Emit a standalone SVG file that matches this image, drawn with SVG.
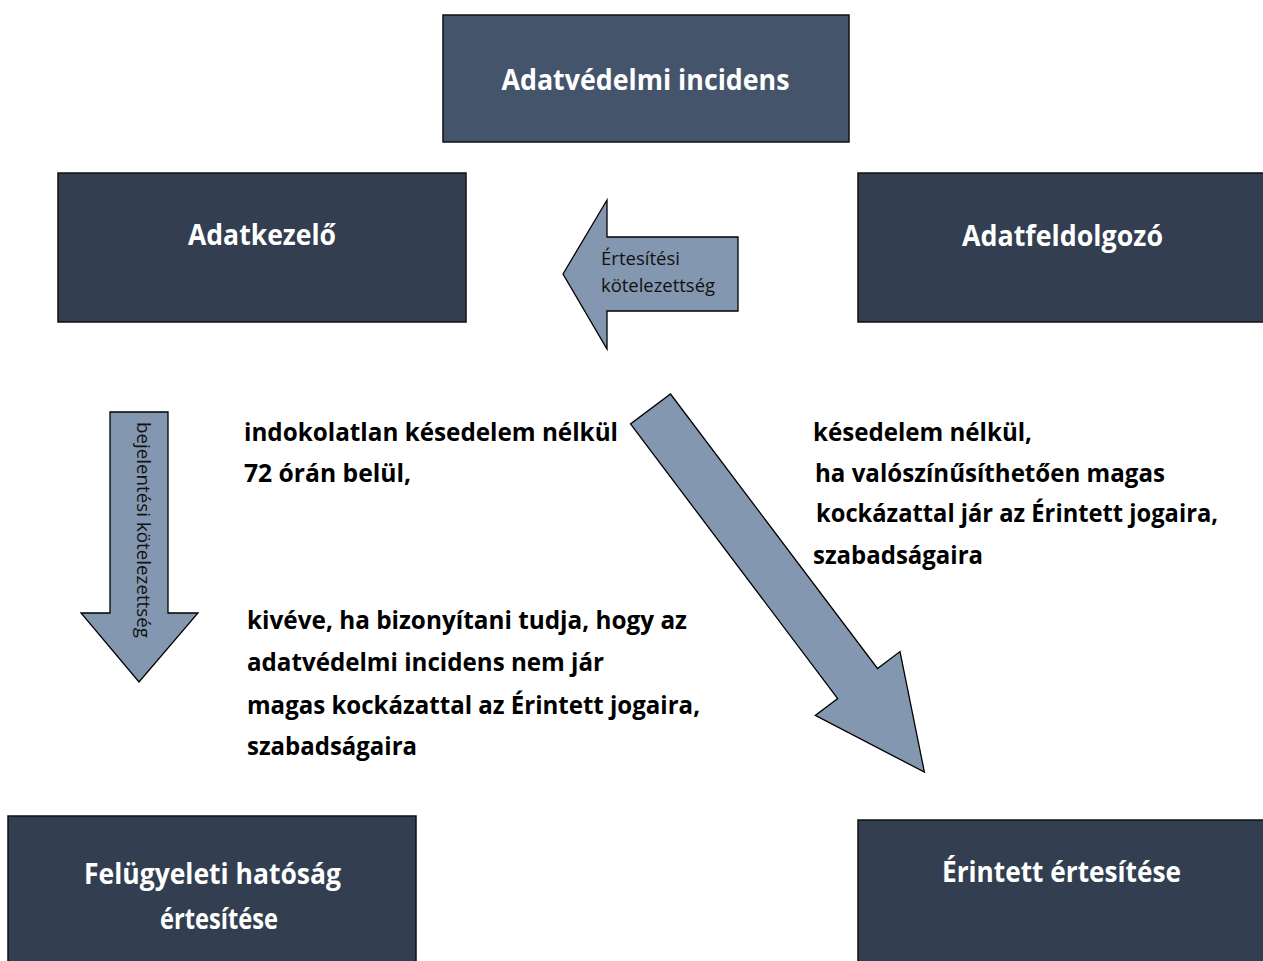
<svg xmlns="http://www.w3.org/2000/svg" width="1263" height="961" viewBox="0 0 1263 961">
<style>
.box{fill:#333F50;stroke:#111;stroke-width:1.5}
.top{fill:#44546A}
.lbl{font-family:"Open Sans",Lato,"Liberation Sans",sans-serif;font-weight:bold;font-size:28px;fill:#fff;text-anchor:middle}
.body{font-family:"Open Sans",Lato,"Liberation Sans",sans-serif;font-weight:bold;font-size:25px;fill:#000}
.small{font-family:"Open Sans",Lato,"Liberation Sans",sans-serif;font-size:18px;fill:#111}
.arrow{fill:#8497B0;stroke:#000;stroke-width:1.3;stroke-linejoin:miter}
</style>
<rect width="1263" height="961" fill="#fff"/>
<g id="node-incidens">
<rect class="box top" x="443" y="15" width="406" height="127"/>
<text class="lbl" x="645.5" y="90" textLength="288" lengthAdjust="spacingAndGlyphs">Adatvédelmi incidens</text>
</g>
<g id="node-adatkezelo">
<rect class="box" x="58" y="173" width="408" height="149"/>
<text class="lbl" x="262" y="245" textLength="148" lengthAdjust="spacingAndGlyphs">Adatkezelő</text>
</g>
<g id="node-adatfeldolgozo">
<rect class="box" x="858" y="173" width="420" height="149"/>
<text class="lbl" x="1062.5" y="246" textLength="201" lengthAdjust="spacingAndGlyphs">Adatfeldolgozó</text>
</g>
<g id="node-felugyeleti">
<rect class="box" x="8" y="816" width="408" height="160"/>
<text class="lbl" x="212.5" y="884" textLength="257" lengthAdjust="spacingAndGlyphs">Felügyeleti hatóság</text>
<text class="lbl" x="219" y="929" textLength="118" lengthAdjust="spacingAndGlyphs">értesítése</text>
</g>
<g id="node-erintett">
<rect class="box" x="858" y="820" width="420" height="160"/>
<text class="lbl" x="1061.5" y="882" textLength="239" lengthAdjust="spacingAndGlyphs">Érintett értesítése</text>
</g>
<g id="connectors">
<g id="arrow-ertesitesi">
<polygon class="arrow" points="563,274 607,200 607,237 738,237 738,311 607,311 607,349"/>
<text class="small" x="601" y="265" textLength="79" lengthAdjust="spacingAndGlyphs">Értesítési</text>
<text class="small" x="601" y="292" textLength="114" lengthAdjust="spacingAndGlyphs">kötelezettség</text>
</g>
<g id="arrow-bejelentesi">
<polygon class="arrow" points="110,412 168,412 168,613 198,613 139,682 81,613 110,613"/>
<text class="small" transform="translate(137,422) rotate(90)" x="0" y="0" textLength="216" lengthAdjust="spacingAndGlyphs">bejelentési kötelezettség</text>
</g>
<g id="arrow-erintett">
<polygon class="arrow" points="670.5,394 877.5,668.5 900,651.6 924.4,772.1 815.3,715.4 837.7,698.5 630.5,424"/>
</g>
</g>
<g id="notes">
<text class="body" x="244" y="441" textLength="374" lengthAdjust="spacingAndGlyphs">indokolatlan késedelem nélkül</text>
<text class="body" x="244" y="482" textLength="167" lengthAdjust="spacingAndGlyphs">72 órán belül,</text>
<text class="body" x="247" y="629" textLength="440" lengthAdjust="spacingAndGlyphs">kivéve, ha bizonyítani tudja, hogy az</text>
<text class="body" x="247" y="671" textLength="357" lengthAdjust="spacingAndGlyphs">adatvédelmi incidens nem jár</text>
<text class="body" x="247" y="714" textLength="453" lengthAdjust="spacingAndGlyphs">magas kockázattal az Érintett jogaira,</text>
<text class="body" x="247" y="755" textLength="170" lengthAdjust="spacingAndGlyphs">szabadságaira</text>
<text class="body" x="813" y="441" textLength="219" lengthAdjust="spacingAndGlyphs">késedelem nélkül,</text>
<text class="body" x="815" y="482" textLength="350" lengthAdjust="spacingAndGlyphs">ha valószínűsíthetően magas</text>
<text class="body" x="816" y="522" textLength="402" lengthAdjust="spacingAndGlyphs">kockázattal jár az Érintett jogaira,</text>
<text class="body" x="813" y="564" textLength="170" lengthAdjust="spacingAndGlyphs">szabadságaira</text>
</g>
</svg>
